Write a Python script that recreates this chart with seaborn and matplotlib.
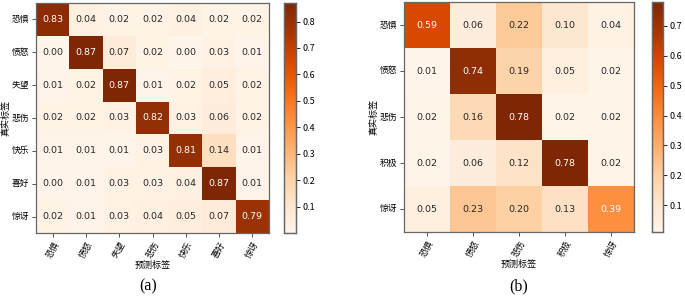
import numpy as np
import pandas as pd
import matplotlib
matplotlib.use("Agg")
import matplotlib.pyplot as plt
import seaborn as sns

plt.rcParams['font.family'] = ['Noto Sans CJK SC', 'DejaVu Sans']

labels_a = ["恐惧", "愤怒", "失望", "悲伤", "快乐", "喜好", "惊讶"]
values_a = [
    [0.83, 0.04, 0.02, 0.02, 0.04, 0.02, 0.02],
    [0.00, 0.87, 0.07, 0.02, 0.00, 0.03, 0.01],
    [0.01, 0.02, 0.87, 0.01, 0.02, 0.05, 0.02],
    [0.02, 0.02, 0.03, 0.82, 0.03, 0.06, 0.02],
    [0.01, 0.01, 0.01, 0.03, 0.81, 0.14, 0.01],
    [0.00, 0.01, 0.03, 0.03, 0.04, 0.87, 0.01],
    [0.02, 0.01, 0.03, 0.04, 0.05, 0.07, 0.79],
]
cbar_ticks_a = [0.1, 0.2, 0.3, 0.4, 0.5, 0.6, 0.7, 0.8]

labels_b = ["恐惧", "愤怒", "悲伤", "积极", "惊讶"]
values_b = [
    [0.59, 0.06, 0.22, 0.10, 0.04],
    [0.01, 0.74, 0.19, 0.05, 0.02],
    [0.02, 0.16, 0.78, 0.02, 0.02],
    [0.02, 0.06, 0.12, 0.78, 0.02],
    [0.05, 0.23, 0.20, 0.13, 0.39],
]
cbar_ticks_b = [0.1, 0.2, 0.3, 0.4, 0.5, 0.6, 0.7]

W, H = 685, 297
fig = plt.figure(figsize=(W / 100, H / 100), dpi=100)

def box(x0, y0, x1, y1):
    return [x0 / W, 1 - y1 / H, (x1 - x0) / W, (y1 - y0) / H]

ax_a = fig.add_axes(box(36, 3, 269, 233))
cax_a = fig.add_axes(box(284, 3, 296, 233))
ax_b = fig.add_axes(box(404, 2, 634, 232))
cax_b = fig.add_axes(box(652, 2, 663, 232))

def draw(ax, cax, vals, labels, cticks, caption, cx):
    df = pd.DataFrame(vals, index=labels, columns=labels)
    sns.heatmap(df, ax=ax, cbar_ax=cax, cmap="Oranges", annot=True, fmt=".2f",
                annot_kws={"fontsize": 6.8, "family": "DejaVu Sans"},
                cbar_kws={"ticks": cticks})
    for s in ax.spines.values():
        s.set_visible(True)
        s.set_color("#666666")
        s.set_linewidth(0.9)
    ax.tick_params(axis="both", length=3, width=0.6, color="#333333", pad=2)
    ax.set_xticklabels(labels, rotation=60, ha="center", fontsize=6.2)
    ax.set_yticklabels(labels, rotation=0, fontsize=6.3)
    ax.set_xlabel("预测标签", fontsize=6.5)
    ax.set_ylabel("真实标签", fontsize=6.5)
    ax.xaxis.set_label_coords(0.5, -32 / 230)
    ax.yaxis.set_label_coords(-30 / 233, 0.5)
    ax.xaxis.label.set_va("center")
    ax.yaxis.label.set_va("center")
    cax.tick_params(labelsize=6.5, length=3, width=0.6, pad=2)
    cax.set_frame_on(True)
    for s in cax.spines.values():
        s.set_visible(True)
        s.set_color("#666666")
        s.set_linewidth(0.9)
    fig.text(cx / W, 1 - 286 / H, caption, ha="center", va="center",
             fontsize=11.5, family="Liberation Serif")

draw(ax_a, cax_a, values_a, labels_a, cbar_ticks_a, "(a)", 148)
draw(ax_b, cax_b, values_b, labels_b, cbar_ticks_b, "(b)", 519)

fig.savefig("out.png", dpi=100)
